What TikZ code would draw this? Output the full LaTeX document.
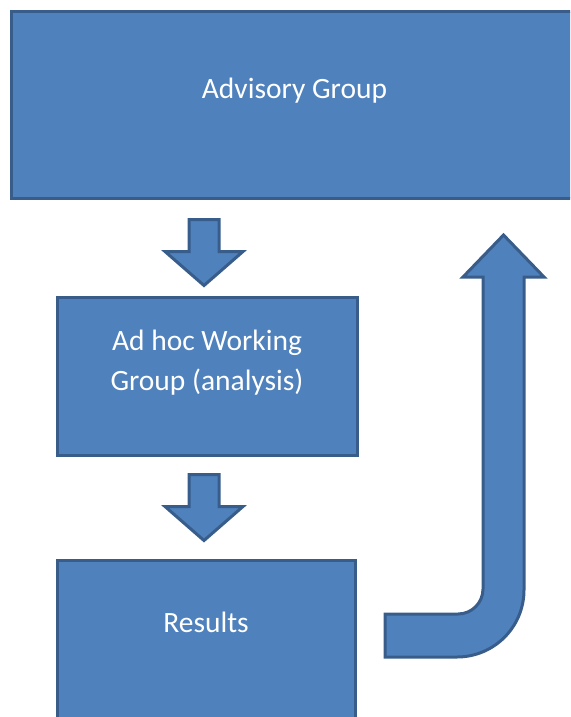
\documentclass[tikz,border=0pt]{standalone}
\usepackage{fontspec}
\setmainfont{Carlito}
\usetikzlibrary{calc}
\definecolor{boxfill}{HTML}{4F81BD}
\definecolor{boxline}{HTML}{385D8A}
\begin{document}
\begin{tikzpicture}[x=1pt,y=-1pt]
      \tikzstyle{every node}=[rectangle,draw=boxline,fill=boxfill,line width=3pt,
        text=white,inner sep=0pt,font=\fontsize{29.5}{40}\selectfont]
      \tikzstyle{blockarrow}=[draw=boxline,fill=boxfill,line width=3pt,line join=miter]
      \useasboundingbox (0,0) rectangle (570,717);
      \clip (0,0) rectangle (570,717);

      % box runs past the right edge, text kept at x=294
      \node[minimum width=700pt,minimum height=186pt,text height=20pt,text depth=34pt]
        (adv) at (361.5,105) {Advisory Group\hspace*{134pt}};
      \node[align=center,minimum width=300pt,minimum height=158pt,text height=62pt,text depth=34pt]
        (work) at (207,376) {Ad hoc Working\\Group (analysis)};
      \node[minimum width=298pt,minimum height=158pt,text height=20pt,text depth=34pt]
        (res) at (206,639) {Results};

      \draw[blockarrow] ($(work.north)+(-3,-10)$) -- ++(-39,-34) -- ++(24,0) -- ++(0,-32)
        -- ++(30,0) -- ++(0,32) -- ++(24,0) -- cycle;
      \draw[blockarrow] ($(res.north)+(-2,-18)$) -- ++(-39,-34) -- ++(24,0) -- ++(0,-32)
        -- ++(30,0) -- ++(0,32) -- ++(24,0) -- cycle;
      \draw[blockarrow] (385,614) -- (458,614) arc[start angle=90,end angle=0,radius=25]
        -- (483,277) -- (463,277) -- (503.5,235) -- (544,277) -- (524,277) -- (524,590)
        arc[start angle=0,end angle=90,radius=67] -- (385,657) -- cycle;
    \end{tikzpicture}
\end{document}
